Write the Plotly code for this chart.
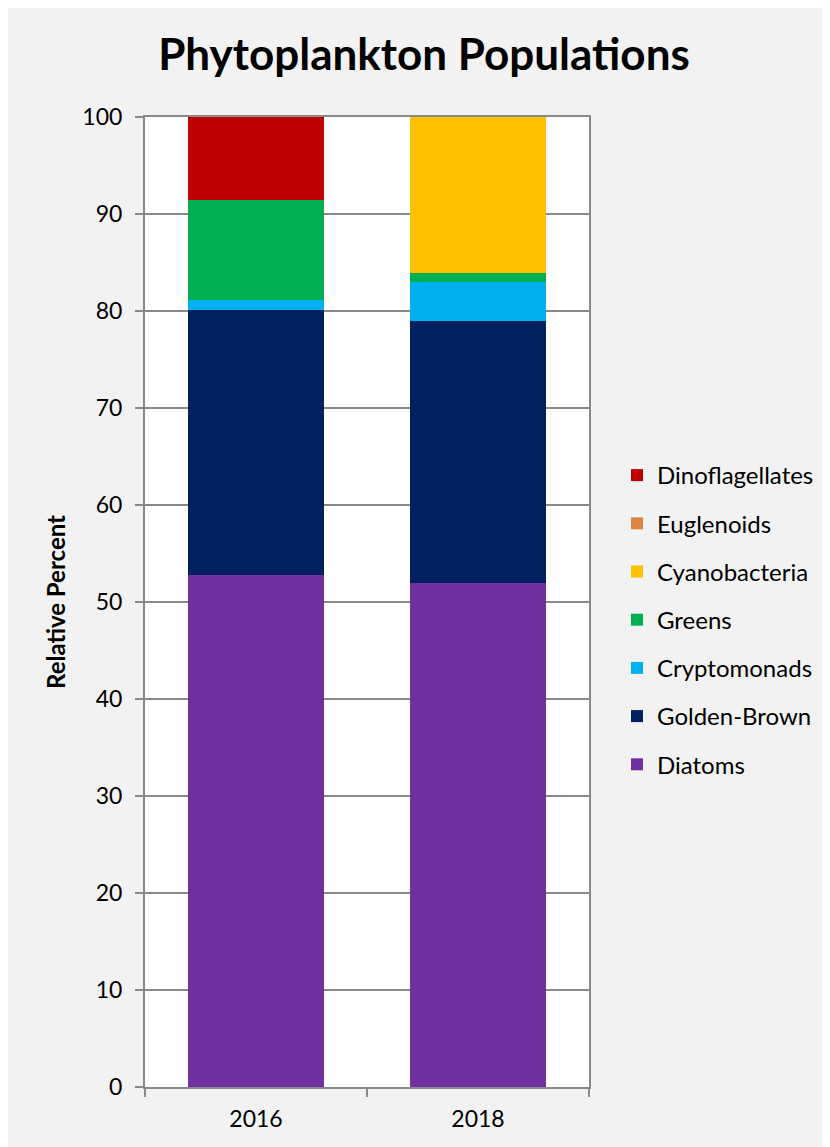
import plotly.graph_objects as go

years = ["2016", "2018"]
series_names = ["Diatoms", "Golden-Brown", "Cryptomonads", "Greens",
                "Cyanobacteria", "Euglenoids", "Dinoflagellates"]
diatoms = [52.8, 52.0]
golden_brown = [27.3, 27.0]
cryptomonads = [1.0, 4.0]
greens = [10.3, 0.9]
cyanobacteria = [0.0, 16.1]
euglenoids = [0.0, 0.0]
dinoflagellates = [8.6, 0.0]
colors = ["#7030A0", "#002060", "#00B0F0", "#00B050", "#FFC000", "#DC8542", "#C00000"]
y_ticks = [0, 10, 20, 30, 40, 50, 60, 70, 80, 90, 100]

values = [diatoms, golden_brown, cryptomonads, greens, cyanobacteria, euglenoids, dinoflagellates]

FONT = "Lato, 'Open Sans', sans-serif"
fig = go.Figure()
n = len(series_names)
for i, (name, vals, col) in enumerate(zip(series_names, values, colors)):
    fig.add_trace(go.Bar(x=years, y=vals, name=name, marker_color=col,
                         marker_line_width=0, legendgroup=name,
                         legendrank=n - i))

OFF = 8  # page body margin
W, H = 830 - OFF, 1147 - OFF
L, R, T, B = 145 - OFF, 240, 117 - OFF, 60
pw, ph = W - L - R, H - T - B

def px_x(p):
    return (p - OFF - L) / pw

def px_y(q):
    return (H - B - (q - OFF)) / ph

fig.update_layout(
    width=W, height=H,
    margin=dict(l=L, r=R, t=T, b=B),
    barmode="stack",
    bargap=0.39,
    paper_bgcolor="#F2F2F2",
    plot_bgcolor="white",
    font=dict(family=FONT, size=23, color="black"),
    title=dict(text="<b>Phytoplankton Populations</b>", x=(424 - OFF) / W, xanchor="center",
               y=1 - (55 - OFF) / H, yanchor="middle",
               font=dict(family=FONT, size=44, color="black")),
    legend=dict(traceorder="grouped", x=px_x(617), xanchor="left",
                y=px_y(620), yanchor="middle", tracegroupgap=14,
                bgcolor="rgba(0,0,0,0)", font=dict(size=24, family=FONT)),
)
fig.update_yaxes(range=[0, 100], tickvals=y_ticks, showgrid=True,
                 gridcolor="#898989", gridwidth=1.5, showline=True,
                 linecolor="#898989", linewidth=2, mirror=True,
                 ticks="outside", ticklen=8, tickcolor="#898989", tickwidth=2,
                 tickfont=dict(size=23), zeroline=False, ticklabelstandoff=8,
                 title=dict(text="<b>Relative Percent</b>", font=dict(size=24), standoff=10))
fig.update_xaxes(showline=True, linecolor="#898989", linewidth=2, mirror=True,
                 ticks="outside", tickson="boundaries", ticklen=8,
                 tickcolor="#898989", tickwidth=2, tickfont=dict(size=23),
                 ticklabelstandoff=10)

fig.write_html("out.html")
